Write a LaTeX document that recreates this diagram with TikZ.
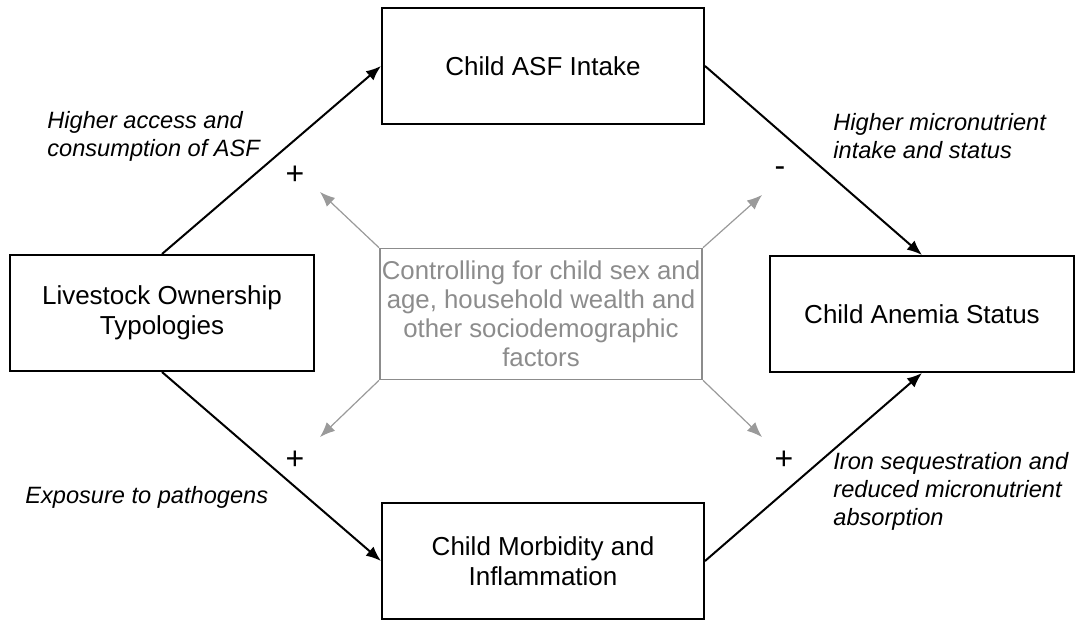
\documentclass[tikz,border=0pt]{standalone}
\usepackage{fontspec}
\setmainfont{Liberation Sans}
\usetikzlibrary{arrows.meta,positioning}
\definecolor{ctrlgray}{HTML}{8C8C8C}
\definecolor{arrgray}{HTML}{9A9A9A}
\tikzset{
style1/.style= {draw,rectangle,line width=1pt,align=center,minimum width=152pt,minimum height=58pt,font=\fontsize{13}{15}\selectfont},
style2/.style= {draw=ctrlgray,rectangle,line width=0.8pt,align=center,text=ctrlgray,inner sep=1pt,minimum width=152pt,minimum height=65.5pt,font=\fontsize{12.9}{14.5}\selectfont},
style3/.style= {anchor=west,align=left,inner sep=0pt,font=\fontsize{11.8}{14}\selectfont\itshape},
style4/.style= {inner sep=0pt,font=\fontsize{16}{16}\selectfont}
}

\begin{document}
\begin{tikzpicture}[
x=0.5pt,y=-0.5pt,
>={Latex[length=7.5pt,width=6pt]}]

\useasboundingbox (0,0) rectangle (1076,620);

% the boxes of the pathway
\node[style1] (c1) at (162,313) {Livestock Ownership\\Typologies};
\node[style1,minimum width=161pt] (c2) at (543,66) {Child ASF Intake};
\node[style1,minimum width=161pt] (c3) at (543,561) {Child Morbidity and\\Inflammation};
\node[style1] (c4) at (922,314) {Child Anemia Status};

% the box in the middle and the ends of its arrows
\node[style2] (c0) at (541,314) {Controlling for child sex and\\age, household wealth and\\other sociodemographic\\factors};
\coordinate (g1) at (320,192);
\coordinate (g2) at (762,195);
\coordinate (g3) at (320,437);
\coordinate (g4) at (762,437);

% black arrows between the boxes
\draw[->,line width=1pt] (c1.north) -- (c2.west);
\draw[->,line width=1pt] (c2.east) -- (c4.north);
\draw[->,line width=1pt] (c1.south) -- (c3.west);
\draw[->,line width=1pt] (c3.east) -- (c4.south);

% grey arrows from the middle box
\foreach \corner/\tip in {north west/g1,north east/g2,south west/g3,south east/g4}
  \draw[->,arrgray,line width=0.6pt] (c0.\corner) -- (\tip);

% signs
\node[style4] (s1) at (295,175) {+};
\node[style4] (s2) at (780,172) {-};
\node[style4] (s3) at (295,460) {+};
\node[style4] (s4) at (784,460) {+};

% italic notes
\node[style3] (n1) at (47,136) {Higher access and\\consumption of ASF};
\node[style3] (n2) at (833,136) {Higher micronutrient\\intake and status};
\node[style3] (n3) at (25,497) {Exposure to pathogens};
\node[style3] (n4) at (833,491) {Iron sequestration and\\reduced micronutrient\\absorption};

\end{tikzpicture}
\end{document}
